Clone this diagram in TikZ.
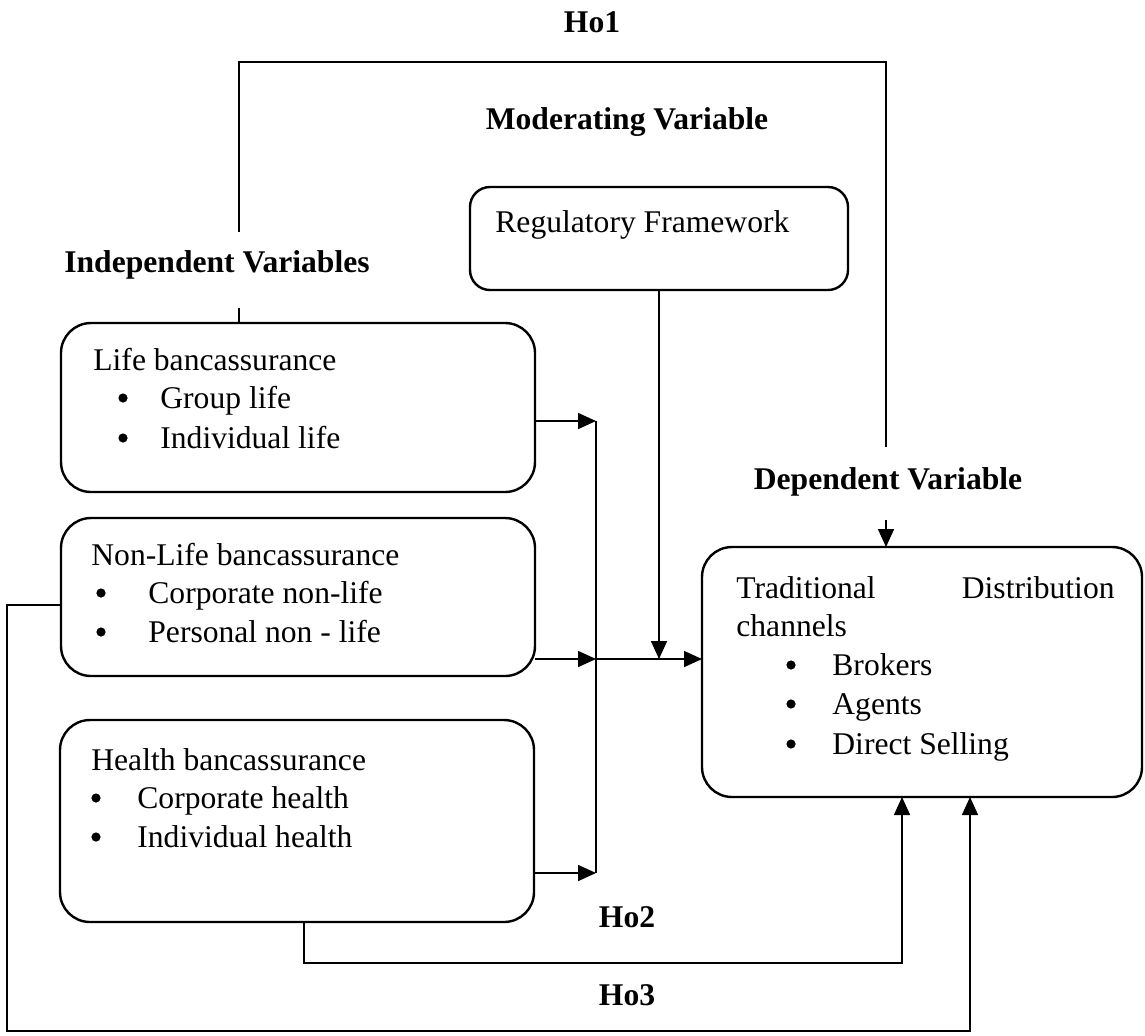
\documentclass[tikz,border=0pt]{standalone}
\usepackage{fontspec}
\setmainfont{Liberation Serif}
\usetikzlibrary{arrows.meta}
\begin{document}
\begin{tikzpicture}[x=0.5pt,y=-0.5pt,
 box/.style={draw,line width=1.2pt,rounded corners=15pt,inner sep=0pt,outer sep=0pt,anchor=north west},
 txt/.style={anchor=base west,inner sep=0pt,font=\fontsize{15.8pt}{19pt}\selectfont},
 txtr/.style={anchor=base east,inner sep=0pt,font=\fontsize{15.8pt}{19pt}\selectfont},
 bul/.style={circle,fill,inner sep=0pt,minimum size=4.6pt,yshift=5pt},
 lbl/.style={anchor=center,inner sep=0pt,font=\fontsize{15.8pt}{19pt}\selectfont\bfseries},
 conn/.style={line width=0.8pt},
 arr/.style={conn,-{Triangle[length=9pt,width=8pt]}}]
\useasboundingbox (0,0) rectangle (1145,1035);

% boxes
\node[box,minimum width=237pt,minimum height=84.5pt] (life) at (61,323) {};
\node[box,minimum width=237pt,minimum height=79pt] (nonlife) at (61,518) {};
\node[box,minimum width=237pt,minimum height=101pt] (health) at (60,720) {};
\node[box,rounded corners=10pt,minimum width=189pt,minimum height=51.5pt] (reg) at (470,187) {};
\node[box,minimum width=220pt,minimum height=125pt] (dep) at (702,547) {};

% box texts
\node[txt] (lifeT) at (93,370) {Life bancassurance};
\node[bul] (lifeB1) at (123,408) {};
\node[txt] (lifeI1) at (160,408) {Group life};
\node[bul] (lifeB2) at (123,448) {};
\node[txt] (lifeI2) at (160,448) {Individual life};

\node[txt] (nlT) at (91,565) {Non-Life bancassurance};
\node[bul] (nlB1) at (101,603) {};
\node[txt] (nlI1) at (148,603) {Corporate non-life};
\node[bul] (nlB2) at (101,642) {};
\node[txt] (nlI2) at (148,642) {Personal non - life};

\node[txt] (hT) at (91,770) {Health bancassurance};
\node[bul] (hB1) at (96,808) {};
\node[txt] (hI1) at (137,808) {Corporate health};
\node[bul] (hB2) at (96,847) {};
\node[txt] (hI2) at (137,847) {Individual health};

\node[txt] (regT) at (495,232) {Regulatory Framework};

\node[txt] (depT1) at (736,598) {Traditional};
\node[txtr] (depT2) at (1115,598) {Distribution};
\node[txt] (depT3) at (736,636) {channels};
\node[bul] (dB1) at (791,675) {};
\node[txt] (dI1) at (832,675) {Brokers};
\node[bul] (dB2) at (791,714) {};
\node[txt] (dI2) at (832,714) {Agents};
\node[bul] (dB3) at (791,754) {};
\node[txt] (dI3) at (832,754) {Direct Selling};

% labels
\node[lbl] (ho1) at (592,22) {Ho1};
\node[lbl] (mod) at (627,122) {Moderating Variable};
\node[lbl] (indep) at (217,265) {Independent Variables};
\node[lbl] (depL) at (888,482) {Dependent Variable};
\node[lbl] (ho2) at (627,917) {Ho2};
\node[lbl] (ho3) at (627,995) {Ho3};

% coordinates
\coordinate (t1) at (239,62);
\coordinate (t2) at (886,62);
\coordinate (ivb) at (239,308);
\coordinate (ivt) at (239,232);
\coordinate (dvt) at (886,447);
\coordinate (dvb) at (886,520);
\coordinate (bus1) at (596,421);
\coordinate (bus2) at (596,659);
\coordinate (bus3) at (596,873);
\coordinate (h2a) at (304,963);
\coordinate (h2b) at (902,963);
\coordinate (h3a) at (7,605);
\coordinate (h3b) at (7,1031);
\coordinate (h3c) at (970,1031);

% Ho1
\draw[conn] (life.north -| t1) -- (ivb);
\draw[conn] (ivt) -- (t1) -- (t2) -- (dvt);
\draw[arr] (dvb) -- (dep.north -| t2);

% moderating
\draw[arr] (reg.south) -- (reg.south |- bus2);

% independent to bus
\draw[arr] (life.east |- bus1) -- (bus1);
\draw[arr] (nonlife.east |- bus2) -- (bus2);
\draw[arr] (health.east |- bus3) -- (bus3);
\draw[conn] (bus1) -- (bus3);
\draw[arr] (bus2) -- (dep.west |- bus2);

% Ho2
\draw[arr] (health.south -| h2a) -- (h2a) -- (h2b) -- (dep.south -| h2b);
% Ho3
\draw[arr] (nonlife.west |- h3a) -- (h3a) -- (h3b) -- (h3c) -- (dep.south -| h3c);
\end{tikzpicture}
\end{document}
